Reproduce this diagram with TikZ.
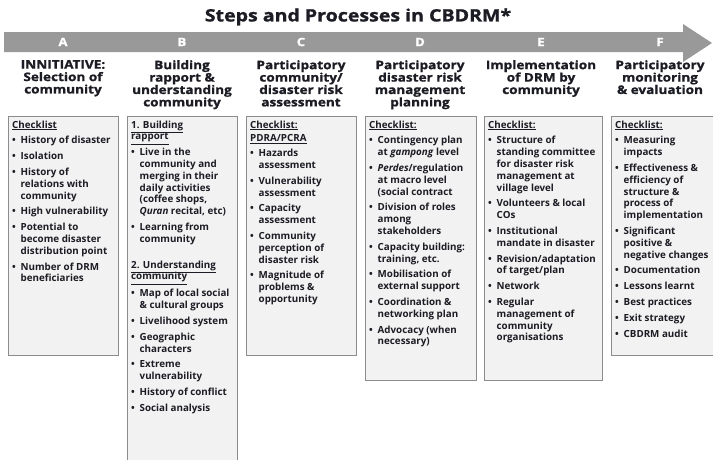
\documentclass[tikz,border=0pt]{standalone}
\usepackage{fontspec}
\setmainfont{Open Sans}
\newfontfamily\hdfam{Open Sans}[FakeStretch=1.15,FakeBold=1.2]
\newfontfamily\ttlfam{Open Sans}[FakeStretch=1.15,FakeBold=1.2]
\definecolor{arrowgray}{HTML}{999999}
\definecolor{boxline}{HTML}{8C8C8C}
\definecolor{boxfill}{HTML}{F2F2F2}
\definecolor{inkc}{HTML}{1C1C24}
\newcommand\bodyfont{\fontsize{9.8}{11.8}\selectfont\bfseries}
\newcommand\headfont{\hdfam\fontsize{11.8}{12.4}\selectfont\bfseries}
\newcommand\letterfont{\hdfam\fontsize{11.5}{12}\selectfont\bfseries}
\newcommand\titlefont{\ttlfam\fontsize{17}{19}\selectfont\bfseries}
\newcommand\bl[1]{\makebox[8.5pt][l]{\textbullet}#1}
\newcommand\cl[1]{\hspace*{8.5pt}#1}
\begin{document}
\begin{tikzpicture}[x=1pt,y=-1pt,
  box/.style={draw=boxline,line width=1.4pt,fill=boxfill,anchor=north west,inner sep=0pt},
  txt/.style={anchor=north west,inner sep=0pt,align=left,font=\bodyfont,text=inkc},
  hd/.style={anchor=north,align=center,font=\headfont,text=inkc,inner sep=0pt},
  letter/.style={font=\letterfont,text=white,inner sep=0pt}]
\useasboundingbox (0,0) rectangle (713,459);
\fill[white] (0,0) rectangle (713,459);
% title
\node[font=\titlefont,text=inkc,inner sep=0pt] (title) at (358,17) {Steps and Processes in CBDRM*};
% arrow band
\fill[arrowgray] (4,32) -- (683,32) -- (683,24) -- (712,43) -- (683,62) -- (683,52) -- (4,52) -- cycle;
\node[letter] (lA) at (63,42) {A};
\node[letter] (lB) at (182,42) {B};
\node[letter] (lC) at (301,42) {C};
\node[letter] (lD) at (420,42) {D};
\node[letter] (lE) at (541,42) {E};
\node[letter] (lF) at (660,42) {F};
% headers
\node[hd] (hA) at (63,60) {INNITIATIVE:\\Selection of\\community};
\node[hd] (hB) at (182,60) {Building\\rapport \&\\understanding\\community};
\node[hd] (hC) at (301,60) {Participatory\\community/\\disaster risk\\assessment};
\node[hd] (hD) at (420,60) {Participatory\\disaster risk\\management\\planning};
\node[hd] (hE) at (541,60) {Implementation\\of DRM by\\community};
\node[hd] (hF) at (660,60) {Participatory\\monitoring\\\& evaluation};
% boxes
\node[box,minimum width=110pt,minimum height=239pt] (bA) at (8,116) {};
\node[box,minimum width=110pt,minimum height=346pt] (bB) at (127,116) {};
\node[box,minimum width=110pt,minimum height=239pt] (bC) at (246,116) {};
\node[box,minimum width=111pt,minimum height=264pt] (bD) at (365,116) {};
\node[box,minimum width=118pt,minimum height=264pt] (bE) at (484,116) {};
\node[box,minimum width=110pt,minimum height=239pt] (bF) at (611,116) {};
% box texts
\node[txt] (tA) at (12,120.5) {\underline{Checklist}\\[4pt]
\bl{History of disaster}\\[4pt]
\bl{Isolation}\\[4pt]
\bl{History of}\\
\cl{relations with}\\
\cl{community}\\[4pt]
\bl{High vulnerability}\\[4pt]
\bl{Potential to}\\
\cl{become disaster}\\
\cl{distribution point}\\[4pt]
\bl{Number of DRM}\\
\cl{beneficiaries}};
\node[txt] (tB) at (131,120.5) {\underline{1. Building}\\
\underline{rapport}\\[4pt]
\bl{Live in the}\\
\cl{community and}\\
\cl{merging in their}\\
\cl{daily activities}\\
\cl{(coffee shops,}\\
\cl{\textit{Quran} recital, etc)}\\[4pt]
\bl{Learning from}\\
\cl{community}\\[14pt]
\underline{2. Understanding}\\
\underline{community}\\[4pt]
\bl{Map of local social}\\
\cl{\& cultural groups}\\[4pt]
\bl{Livelihood system}\\[4pt]
\bl{Geographic}\\
\cl{characters}\\[4pt]
\bl{Extreme}\\
\cl{vulnerability}\\[4pt]
\bl{History of conflict}\\[4pt]
\bl{Social analysis}};
\node[txt] (tC) at (250,120.5) {\underline{Checklist:}\\[2pt]
\underline{PDRA/PCRA}\\[3pt]
\bl{Hazards}\\
\cl{assessment}\\[4pt]
\bl{Vulnerability}\\
\cl{assessment}\\[4pt]
\bl{Capacity}\\
\cl{assessment}\\[4pt]
\bl{Community}\\
\cl{perception of}\\
\cl{disaster risk}\\[4pt]
\bl{Magnitude of}\\
\cl{problems \&}\\
\cl{opportunity}};
\node[txt] (tD) at (369,120.5) {\underline{Checklist:}\\[4pt]
\bl{Contingency plan}\\
\cl{at \textit{gampong} level}\\[4pt]
\bl{\textit{Perdes}/regulation}\\
\cl{at macro level}\\
\cl{(social contract}\\[4pt]
\bl{Division of roles}\\
\cl{among}\\
\cl{stakeholders}\\[4pt]
\bl{Capacity building:}\\
\cl{training, etc.}\\[4pt]
\bl{Mobilisation of}\\
\cl{external support}\\[4pt]
\bl{Coordination \&}\\
\cl{networking plan}\\[4pt]
\bl{Advocacy (when}\\
\cl{necessary)}};
\node[txt] (tE) at (488,120.5) {\underline{Checklist:}\\[4pt]
\bl{Structure of}\\
\cl{standing committee}\\
\cl{for disaster risk}\\
\cl{management at}\\
\cl{village level}\\[4pt]
\bl{Volunteers \& local}\\
\cl{COs}\\[4pt]
\bl{Institutional}\\
\cl{mandate in disaster}\\[4pt]
\bl{Revision/adaptation}\\
\cl{of target/plan}\\[4pt]
\bl{Network}\\[4pt]
\bl{Regular}\\
\cl{management of}\\
\cl{community}\\
\cl{organisations}};
\node[txt] (tF) at (615,120.5) {\underline{Checklist:}\\[4pt]
\bl{Measuring}\\
\cl{impacts}\\[4pt]
\bl{Effectiveness \&}\\
\cl{efficiency of}\\
\cl{structure \&}\\
\cl{process of}\\
\cl{implementation}\\[4pt]
\bl{Significant}\\
\cl{positive \&}\\
\cl{negative changes}\\[4pt]
\bl{Documentation}\\[4pt]
\bl{Lessons learnt}\\[4pt]
\bl{Best practices}\\[4pt]
\bl{Exit strategy}\\[4pt]
\bl{CBDRM audit}};
\end{tikzpicture}
\end{document}
